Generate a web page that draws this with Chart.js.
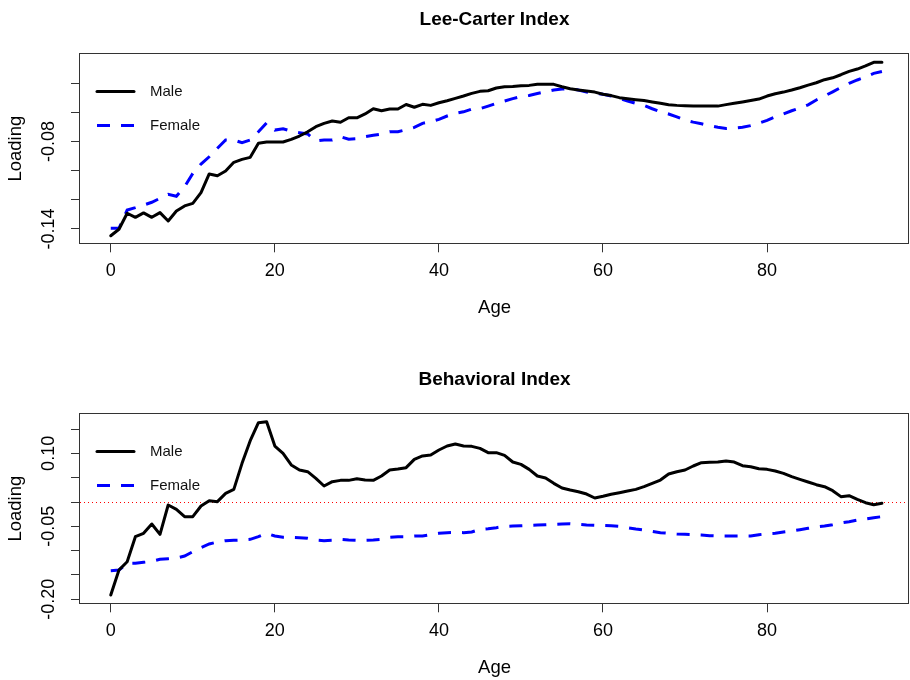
<!DOCTYPE html>
<html>
<head>
<meta charset="utf-8">
<title>Lee-Carter and Behavioral Index</title>
<script src="https://cdn.jsdelivr.net/npm/chart.js@4.4.1/dist/chart.umd.min.js"></script>
<style>
  html, body { margin: 0; padding: 0; background: #fff; }
  .panel { width: 910px; height: 340px; }
  canvas { display: block; }
</style>
</head>
<body>
<div class="panel"><canvas id="lcChart" width="910" height="340"></canvas></div>
<div class="panel"><canvas id="bhChart" width="910" height="340"></canvas></div>
<script>
"use strict";

/* ---- data ---- */
const ages = [
  0, 1, 2, 3, 4, 5, 6, 7, 8, 9, 10, 11, 12, 13, 14, 15, 16, 17, 18, 19,
  20, 21, 22, 23, 24, 25, 26, 27, 28, 29, 30, 31, 32, 33, 34, 35, 36, 37, 38, 39,
  40, 41, 42, 43, 44, 45, 46, 47, 48, 49, 50, 51, 52, 53, 54, 55, 56, 57, 58, 59,
  60, 61, 62, 63, 64, 65, 66, 67, 68, 69, 70, 71, 72, 73, 74, 75, 76, 77, 78, 79,
  80, 81, 82, 83, 84, 85, 86, 87, 88, 89, 90, 91, 92, 93, 94
];

const lcMale = [
  -0.1446, -0.1402, -0.1292, -0.1320, -0.1290, -0.1320, -0.1288, -0.1345, -0.1277, -0.1242,
  -0.1224, -0.1151, -0.1023, -0.1035, -0.1003, -0.0943, -0.0923, -0.0909, -0.0813, -0.0804,
  -0.0804, -0.0804, -0.0786, -0.0763, -0.0734, -0.0699, -0.0676, -0.0660, -0.0669, -0.0638,
  -0.0638, -0.0612, -0.0576, -0.0590, -0.0578, -0.0578, -0.0547, -0.0566, -0.0546, -0.0553,
  -0.0535, -0.0521, -0.0505, -0.0489, -0.0471, -0.0457, -0.0453, -0.0434, -0.0425, -0.0423,
  -0.0418, -0.0416, -0.0409, -0.0409, -0.0409, -0.0425, -0.0439, -0.0448, -0.0455, -0.0462,
  -0.0477, -0.0486, -0.0500, -0.0507, -0.0514, -0.0520, -0.0530, -0.0539, -0.0548, -0.0553,
  -0.0555, -0.0558, -0.0558, -0.0558, -0.0558, -0.0548, -0.0539, -0.0530, -0.0520, -0.0510,
  -0.0489, -0.0473, -0.0462, -0.0448, -0.0432, -0.0414, -0.0398, -0.0377, -0.0364, -0.0343,
  -0.0320, -0.0304, -0.0283, -0.0258, -0.0258
];

const lcFemale = [
  -0.1395, -0.1395, -0.1270, -0.1254, -0.1236, -0.1217, -0.1190, -0.1162, -0.1176, -0.1110,
  -0.1019, -0.0955, -0.0905, -0.0847, -0.0790, -0.0790, -0.0809, -0.0790, -0.0734, -0.0672,
  -0.0722, -0.0713, -0.0730, -0.0740, -0.0749, -0.0797, -0.0790, -0.0790, -0.0768, -0.0785,
  -0.0781, -0.0768, -0.0758, -0.0749, -0.0734, -0.0734, -0.0720, -0.0704, -0.0676, -0.0665,
  -0.0649, -0.0626, -0.0608, -0.0597, -0.0578, -0.0576, -0.0558, -0.0539, -0.0523, -0.0507,
  -0.0493, -0.0485, -0.0472, -0.0460, -0.0448, -0.0441, -0.0439, -0.0448, -0.0462, -0.0471,
  -0.0477, -0.0489, -0.0505, -0.0523, -0.0539, -0.0553, -0.0576, -0.0597, -0.0612, -0.0632,
  -0.0654, -0.0668, -0.0679, -0.0692, -0.0703, -0.0711, -0.0708, -0.0703, -0.0692, -0.0675,
  -0.0656, -0.0632, -0.0612, -0.0590, -0.0571, -0.0549, -0.0516, -0.0489, -0.0460, -0.0430,
  -0.0402, -0.0379, -0.0358, -0.0334, -0.0321
];

const bhMale = [
  -0.1912, -0.1398, -0.1227, -0.0713, -0.0644, -0.0452, -0.0665, -0.0062, -0.0151, -0.0301,
  -0.0301, -0.0082, 0.0027, 0.0007, 0.0178, 0.0260, 0.0795, 0.1260, 0.1630, 0.1650,
  0.1151, 0.1001, 0.0761, 0.0658, 0.0623, 0.0487, 0.0329, 0.0418, 0.0445, 0.0445,
  0.0479, 0.0452, 0.0445, 0.0534, 0.0658, 0.0678, 0.0706, 0.0877, 0.0946, 0.0966,
  0.1069, 0.1151, 0.1192, 0.1151, 0.1144, 0.1103, 0.1014, 0.1014, 0.0959, 0.0822,
  0.0774, 0.0671, 0.0534, 0.0493, 0.0384, 0.0288, 0.0247, 0.0212, 0.0164, 0.0082,
  0.0117, 0.0158, 0.0192, 0.0226, 0.0260, 0.0315, 0.0384, 0.0452, 0.0576, 0.0623,
  0.0658, 0.0740, 0.0808, 0.0815, 0.0822, 0.0843, 0.0822, 0.0747, 0.0726, 0.0685,
  0.0671, 0.0637, 0.0589, 0.0521, 0.0466, 0.0411, 0.0356, 0.0315, 0.0233, 0.0110,
  0.0130, 0.0055, -0.0014, -0.0055, -0.0027
];

const bhFemale = [
  -0.1411, -0.1398, -0.1260, -0.1260, -0.1240, -0.1220, -0.1178, -0.1165, -0.1151, -0.1110,
  -0.1021, -0.0939, -0.0863, -0.0822, -0.0795, -0.0788, -0.0781, -0.0767, -0.0713, -0.0644,
  -0.0699, -0.0726, -0.0726, -0.0733, -0.0747, -0.0781, -0.0795, -0.0788, -0.0767, -0.0781,
  -0.0788, -0.0788, -0.0781, -0.0767, -0.0726, -0.0713, -0.0713, -0.0699, -0.0699, -0.0671,
  -0.0644, -0.0630, -0.0625, -0.0630, -0.0617, -0.0562, -0.0548, -0.0528, -0.0500, -0.0493,
  -0.0487, -0.0480, -0.0473, -0.0466, -0.0459, -0.0452, -0.0446, -0.0459, -0.0473, -0.0480,
  -0.0480, -0.0487, -0.0500, -0.0528, -0.0555, -0.0576, -0.0603, -0.0630, -0.0644, -0.0658,
  -0.0665, -0.0672, -0.0678, -0.0692, -0.0699, -0.0699, -0.0699, -0.0699, -0.0699, -0.0672,
  -0.0651, -0.0644, -0.0617, -0.0596, -0.0569, -0.0541, -0.0514, -0.0493, -0.0466, -0.0432,
  -0.0404, -0.0370, -0.0349, -0.0322, -0.0301
];

// axis ticks and which of them carry a label (R drops the overlapping ones)
const xTicks = [0, 20, 40, 60, 80];
const lcYTicks = [-0.14, -0.12, -0.10, -0.08, -0.06, -0.04];
const lcYLabels = [-0.14, -0.08];
const bhYTicks = [-0.20, -0.15, -0.10, -0.05, 0.00, 0.05, 0.10, 0.15];
const bhYLabels = [-0.20, -0.05, 0.10];
const bhRefLine = 0;

/* ---- look ---- */
const FONT = "'Liberation Sans', Arial, sans-serif";
const INK = "#000";
const FRAME = "#333";

const toXY = vals => ages.map((a, i) => ({ x: a, y: vals[i] }));

// plot frame all the way round, like R's box()
const frameBox = {
  id: "frameBox",
  afterDraw(chart) {
    const { ctx, chartArea: a } = chart;
    ctx.save();
    ctx.strokeStyle = FRAME;
    ctx.lineWidth = 1;
    ctx.strokeRect(Math.round(a.left) - 0.5, Math.round(a.top) - 0.5,
      Math.round(a.right - a.left), Math.round(a.bottom - a.top) + 1);
    ctx.restore();
  }
};

// y tick labels written along the axis (rotated), only the ones R keeps
const sideLabels = {
  id: "sideLabels",
  afterDraw(chart, args, opts) {
    const { ctx } = chart;
    const y = chart.scales.y;
    ctx.save();
    ctx.font = "18px " + FONT;
    ctx.fillStyle = INK;
    ctx.textAlign = "center";
    ctx.textBaseline = "alphabetic";
    (opts.values || []).forEach(v => {
      ctx.save();
      ctx.translate(53.5, y.getPixelForValue(v));
      ctx.rotate(-Math.PI / 2);
      ctx.fillText(v.toFixed(2), 0, 0);
      ctx.restore();
    });
    ctx.restore();
  }
};

// horizontal dotted reference line (abline h=0)
const refLine = {
  id: "refLine",
  beforeDatasetsDraw(chart, args, opts) {
    if (opts.value === undefined) return;
    const { ctx, chartArea: a } = chart;
    const py = Math.round(chart.scales.y.getPixelForValue(opts.value)) + 0.5;
    ctx.save();
    ctx.strokeStyle = "#ff0000";
    ctx.lineWidth = 1;
    ctx.setLineDash([1, 3]);
    ctx.beginPath();
    ctx.moveTo(a.left, py);
    ctx.lineTo(a.right, py);
    ctx.stroke();
    ctx.restore();
  }
};

// borderless legend in the top-left corner of the plot
const cornerLegend = {
  id: "cornerLegend",
  afterDraw(chart) {
    const { ctx, chartArea: a } = chart;
    ctx.save();
    ctx.font = "15px " + FONT;
    ctx.textBaseline = "middle";
    ctx.textAlign = "left";
    chart.data.datasets.forEach((ds, i) => {
      const y = Math.round(a.top + 36.5 + i * 34.3) + 0.5;
      ctx.strokeStyle = ds.borderColor;
      ctx.lineWidth = ds.borderWidth;
      ctx.lineCap = ds.borderDash ? "butt" : "round";
      ctx.setLineDash(ds.borderDash || []);
      ctx.beginPath();
      ctx.moveTo(a.left + 17, y);
      ctx.lineTo(a.left + 54, y);
      ctx.stroke();
      ctx.fillStyle = "#111";
      ctx.fillText(ds.label, a.left + 70, y);
    });
    ctx.restore();
  }
};

function makePanel(canvasId, title, male, female, yMin, yMax, yTicks, yLabels, shift, ref) {
  return new Chart(document.getElementById(canvasId), {
    type: "line",
    data: {
      datasets: [
        { label: "Male", data: toXY(male), borderColor: "#000000", borderWidth: 3,
          borderJoinStyle: "round", borderCapStyle: "round", pointRadius: 0, tension: 0 },
        { label: "Female", data: toXY(female), borderColor: "#0000ff", borderWidth: 3,
          borderDash: [13, 11], borderCapStyle: "butt", pointRadius: 0, tension: 0 }
      ]
    },
    options: {
      responsive: false,
      animation: false,
      events: [],
      layout: { padding: { top: shift, bottom: 20 - shift, left: 0, right: 1 } },
      plugins: {
        legend: { display: false },
        tooltip: { enabled: false },
        title: {
          display: true, text: title, color: INK, fullSize: false,
          font: { family: FONT, size: 19, weight: "bold" },
          padding: { top: 8.5, bottom: 22.7 }
        },
        sideLabels: { values: yLabels },
        refLine: { value: ref }
      },
      scales: {
        x: {
          type: "linear", min: -3.75, max: 97.3,
          afterBuildTicks: s => { s.ticks = xTicks.map(v => ({ value: v })); },
          afterFit: s => { s.height = 76.7; },
          grid: { drawOnChartArea: false, drawTicks: true, tickLength: 9, color: FRAME },
          border: { display: false },
          ticks: { color: INK, font: { family: FONT, size: 18 }, padding: 8, maxRotation: 0, autoSkip: false },
          title: { display: true, text: "Age", color: INK, font: { family: FONT, size: 18.5 },
                   padding: { top: 0, bottom: 1 } }
        },
        y: {
          type: "linear", min: yMin, max: yMax,
          afterBuildTicks: s => { s.ticks = yTicks.map(v => ({ value: v })); },
          afterFit: s => { s.width = 80; },
          grid: { drawOnChartArea: false, drawTicks: true, tickLength: 9, color: FRAME },
          border: { display: false },
          ticks: { display: false },
          title: { display: true, text: "Loading", color: INK, font: { family: FONT, size: 18.5 },
                   padding: { top: 4.6, bottom: 0 } }
        }
      }
    },
    plugins: [frameBox, sideLabels, refLine, cornerLegend]
  });
}

makePanel("lcChart", "Lee-Carter Index", lcMale, lcFemale,
  -0.1498, -0.0201, lcYTicks, lcYLabels, 0, undefined);
makePanel("bhChart", "Behavioral Index", bhMale, bhFemale,
  -0.2082, 0.1809, bhYTicks, bhYLabels, 20, bhRefLine);
</script>
</body>
</html>
